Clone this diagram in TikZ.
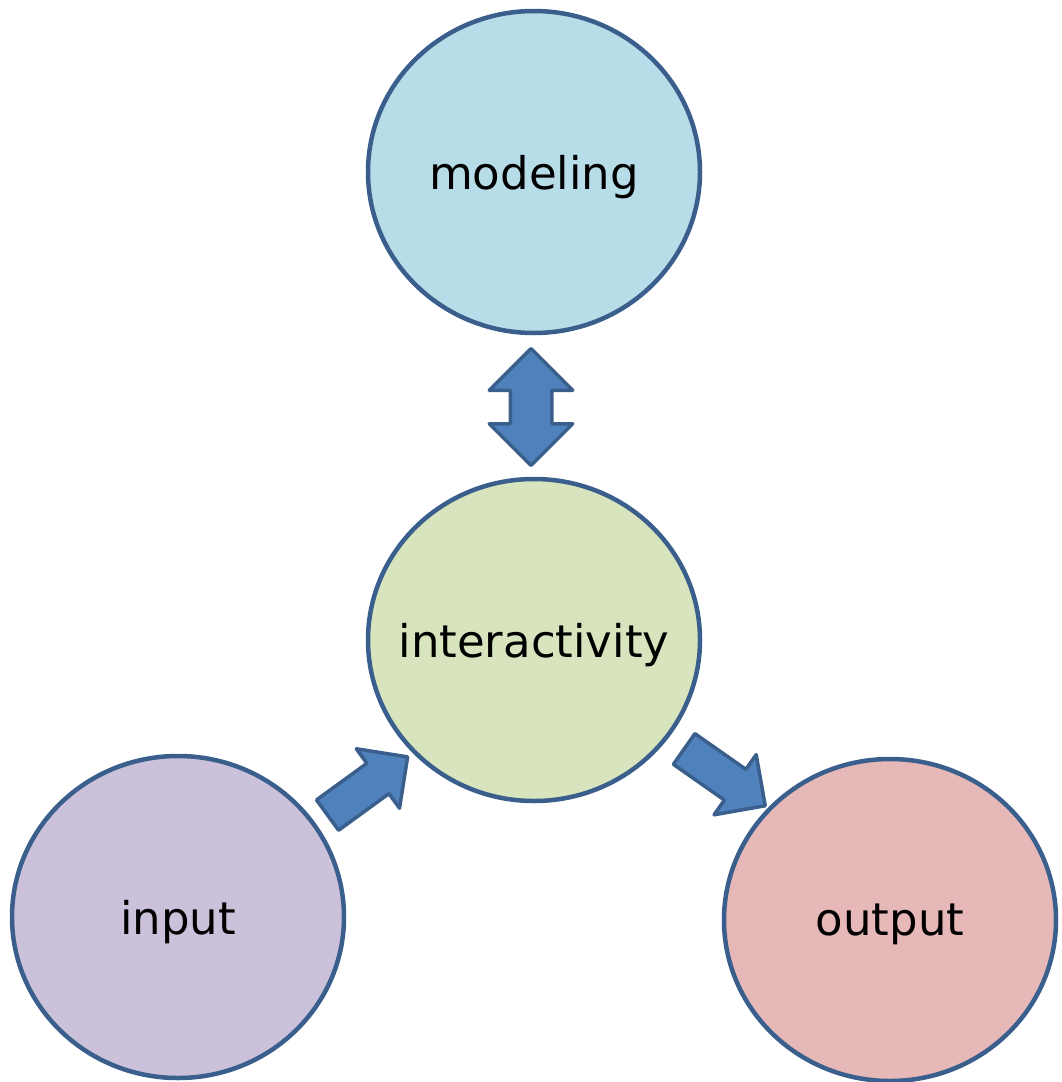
\documentclass[tikz,border=0pt]{standalone}
\usepackage{fontspec}
\setmainfont{DejaVu Sans}
\usetikzlibrary{shapes.geometric,shapes.arrows,calc}

\definecolor{rim}{HTML}{3A5F8C}
\definecolor{arrowblue}{HTML}{4F81BD}
\definecolor{modelfill}{HTML}{B7DDE8}
\definecolor{interfill}{HTML}{D7E4BD}
\definecolor{inputfill}{HTML}{CCC1DA}
\definecolor{outputfill}{HTML}{E6B9B8}

\begin{document}
\begin{tikzpicture}[x=1pt, y=-1pt, line join=round,
	bubble/.style={ellipse, draw=rim, line width=4.5pt, minimum width=332pt, minimum height=322pt, inner sep=0pt, text depth=0pt, font=\fontsize{45}{54}\selectfont},
	flow/.style={single arrow, draw=rim, fill=arrowblue, line width=3.5pt, inner sep=17pt, single arrow head extend=18pt, minimum height=99pt},
	twoway/.style={double arrow, draw=rim, fill=arrowblue, line width=3.5pt, inner sep=19pt, double arrow head extend=21pt, minimum height=117pt}]
	\useasboundingbox (0,0) rectangle (1061,1082);
	% the four parts (labels kept zero-width so the ellipses stay the same size)
	\node[bubble, fill=modelfill] (model) at (534,172) {\makebox[0pt]{modeling}};
	\node[bubble, fill=interfill] (inter) at (534,640) {\makebox[0pt]{interactivity}};
	\node[bubble, fill=inputfill] (input) at (178,917) {\makebox[0pt]{input}};
	\node[bubble, fill=outputfill] (output) at (890,920) {\makebox[0pt]{output}};
	% block arrows between them
	\node[twoway, rotate=90] (mi) at ($(model)!0.5!(inter)+(-3,1)$) {};
	\node[flow, rotate=36] (ii) at ($(input)!0.5!(inter)+(4,13)$) {};
	\node[flow, rotate=-35] (io) at ($(inter)!0.5!(output)+(5,-8)$) {};
\end{tikzpicture}
\end{document}
